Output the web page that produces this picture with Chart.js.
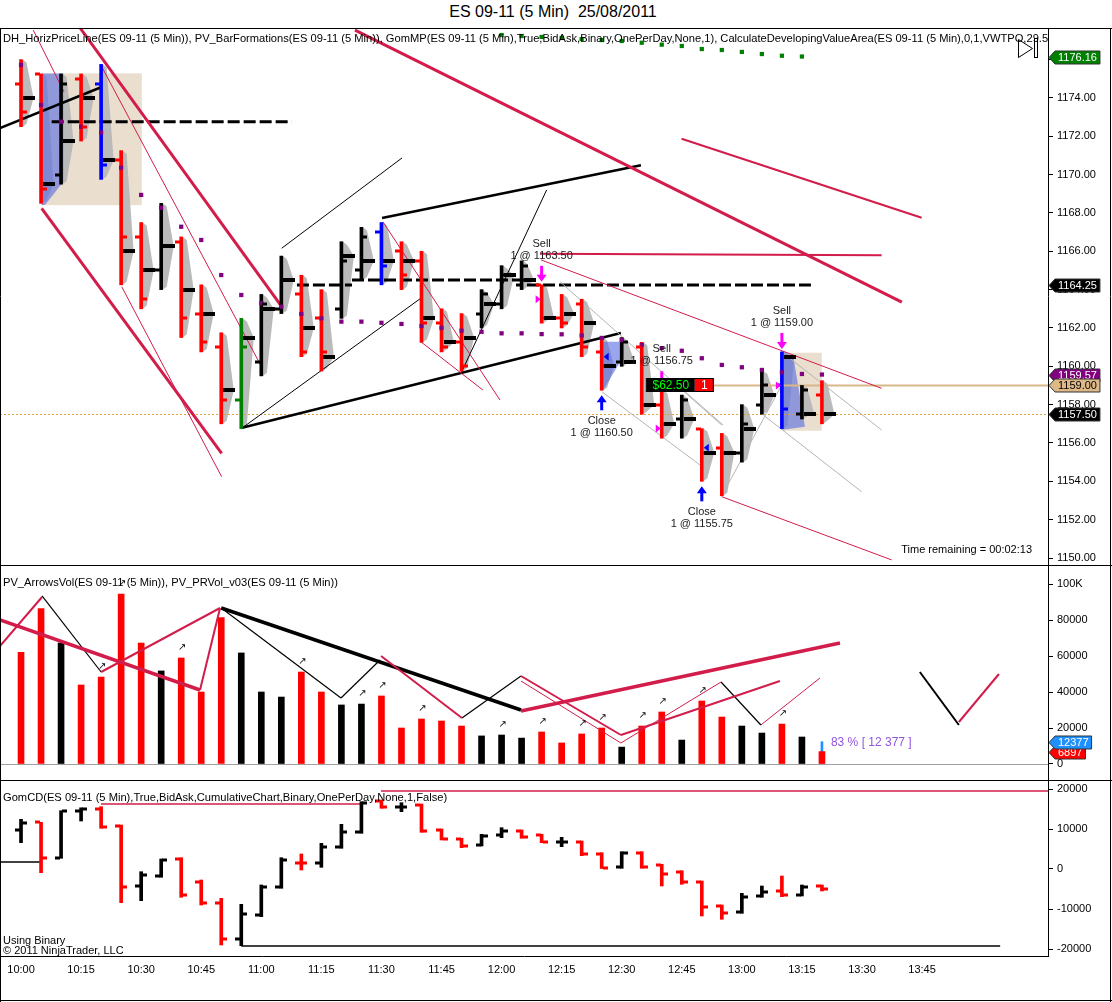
<!DOCTYPE html>
<html>
<head>
<meta charset="utf-8">
<title>ES 09-11 (5 Min) 25/08/2011</title>
<script src="https://cdn.jsdelivr.net/npm/chart.js@4.4.1/dist/chart.umd.min.js"></script>
<style>
  html, body { margin: 0; padding: 0; background: #fff; }
  #page { position: relative; width: 1112px; height: 1002px; overflow: hidden; font-family: "Liberation Sans", Arial, sans-serif; }
  #title { position: absolute; top: 3px; left: 0; width: 1106px; text-align: center; font-size: 16px; color: #000; white-space: pre; }
  .panel { position: absolute; left: 0; width: 1112px; }
</style>
</head>
<body>
<div id="page">
  <div id="title">ES 09-11 (5 Min)  25/08/2011</div>
  <div class="panel" style="top:28px;height:537px"><canvas id="pricePanel"></canvas></div>
  <div class="panel" style="top:565px;height:215px"><canvas id="volumePanel"></canvas></div>
  <div class="panel" style="top:780px;height:222px"><canvas id="deltaPanel"></canvas></div>
</div>
<script>
const FONT = '"Liberation Sans", Arial, sans-serif';

// time axis (one bar every 5 minutes, bar 0 = 10:00)
const timeLabels = ['10:00','10:15','10:30','10:45','11:00','11:15','11:30','11:45',
                    '12:00','12:15','12:30','12:45','13:00','13:15','13:30','13:45'];
const timeTickBars = [0,3,6,9,12,15,18,21,24,27,30,33,36,39,42,45];

// price bars
const priceOpen  = [1174.75,1175.25,1170.00,1175.00,1174.75,1170.75,1166.75,1165.00,1166.50,1162.75,
                    1161.00,1158.25,1160.25,1163.00,1163.75,1162.50,1163.00,1165.00,1167.00,1166.00,
                    1165.50,1162.25,1161.25,1162.75,1163.25,1164.25,1164.25,1162.50,1163.25,1160.75,
                    1160.25,1161.00,1158.00,1157.25,1156.75,1155.75,1155.50,1158.00,1159.00,1157.50,1158.50];
const priceHigh  = [1176.00,1175.25,1175.25,1175.25,1175.75,1171.25,1167.50,1168.50,1166.75,1164.25,
                    1161.75,1162.50,1163.75,1165.75,1164.75,1164.00,1166.50,1167.25,1167.50,1166.50,
                    1166.00,1163.00,1162.75,1164.00,1165.25,1165.50,1164.25,1163.75,1163.50,1161.50,
                    1161.50,1161.25,1158.75,1158.50,1156.75,1156.50,1158.00,1159.75,1160.75,1159.00,1159.25];
const priceLow   = [1172.50,1168.50,1169.50,1171.75,1169.75,1164.25,1163.00,1164.00,1161.50,1160.75,
                    1157.00,1156.75,1159.50,1162.75,1160.50,1159.75,1162.50,1164.50,1164.25,1164.00,
                    1161.25,1160.75,1159.75,1162.00,1163.00,1164.00,1162.25,1162.00,1160.50,1158.75,
                    1160.00,1157.50,1156.25,1156.25,1154.00,1153.25,1155.00,1157.50,1156.75,1157.25,1157.00];
const priceClose = [1173.25,1169.25,1174.75,1172.50,1170.50,1166.75,1163.50,1166.25,1162.50,1161.25,
                    1158.25,1161.00,1163.25,1164.50,1160.75,1160.75,1165.50,1166.75,1165.25,1164.75,
                    1162.25,1161.00,1160.00,1163.75,1164.75,1165.25,1162.50,1162.25,1161.00,1160.00,
                    1161.25,1158.00,1157.00,1158.25,1155.50,1155.50,1157.00,1159.00,1157.75,1158.75,1157.50];
const pricePoc   = [1174.00,1169.50,1171.75,1174.00,1170.75,1166.00,1165.00,1166.25,1164.00,1162.75,
                    1158.75,1161.50,1163.00,1164.50,1162.00,1160.50,1165.75,1165.50,1165.50,1165.50,
                    1162.50,1161.25,1161.50,1163.25,1164.75,1164.50,1162.50,1162.75,1162.25,1160.00,
                    1160.25,1158.00,1157.00,1157.25,1155.50,1155.50,1156.75,1158.50,1160.50,1157.50,1157.50];
const blueSignalBars  = [4, 18, 38];
const greenSignalBars = [11];
const vwapDots = [1175.72,1173.63,1172.76,1172.50,1172.19,1170.36,1168.94,1168.27,1167.28,1166.59,
                  1164.76,1163.72,1163.29,1163.11,1162.73,1162.50,1162.33,1162.33,1162.27,1162.21,
                  1162.10,1162.01,1161.86,1161.80,1161.72,1161.72,1161.68,1161.67,1161.61,1161.48,
                  1161.37,1161.11,1160.95,1160.81,1160.42,1160.07,1159.95,1159.81,1159.68,1159.60,1159.57];
const greenDotsStart = 24;
const greenDots = [1177.28,1177.23,1177.18,1177.13,1177.07,1177.02,1176.97,1176.88,
                   1176.78,1176.71,1176.55,1176.50,1176.40,1176.29,1176.20,1176.16];
const priceTicks = [1150,1152,1154,1156,1158,1160,1162,1164,1166,1168,1170,1172,1174,1176];
const priceMarks = [1164.25, 1159.57, 1159.00, 1157.50, 1176.16];
const lastPrice = 1157.50;

// trades
const sellTrades  = [{bar: 26, price: 1163.50}, {bar: 32, price: 1156.75}, {bar: 38, price: 1159.00}];
const closeTrades = [{bar: 29, price: 1160.50}, {bar: 34, price: 1155.75}];
const positionPrice = 1159.00;
const positionQty = 1;
const positionPnl = '$62.50';
const positionBoxEnd = 34.6;
const timeRemaining = '00:02:13';

// drawn objects on the price panel, [bar1, price1, bar2, price2]
const blackThickLines = [[-1.05,1172.43,4.03,1174.57],[10.99,1156.78,29.96,1161.74],[18.03,1167.74,30.96,1170.49]];
const blackThinLines  = [[13.02,1166.16,19.03,1170.87],[11.04,1156.78,19.98,1163.56],[22.01,1159.72,26.25,1169.20]];
const blackDashLines  = [[1.53,1172.76,13.52,1172.76],[13.78,1164.24,16.53,1164.24],
                         [16.53,1164.50,25.27,1164.50],[25.27,1164.24,39.45,1164.24]];
const crimsonThickLines = [[2.95,1177.65,13.02,1163.11],[1.03,1168.24,10.02,1155.46],[16.68,1177.54,43.99,1163.35]];
const crimsonMidLines   = [[32.99,1171.87,44.98,1167.75],[25.92,1165.87,42.98,1165.79]];
const crimsonThinLines  = [[0.61,1177.54,2.15,1174.31],[4.03,1175.63,12.02,1159.96],[5.03,1164.15,10.02,1154.24],
                           [25.97,1165.55,42.98,1158.85],[18.08,1167.53,23.92,1158.24],[19.98,1161.27,23.07,1158.76],
                           [34.99,1153.20,43.48,1149.90]];
const grayLines = [[26.92,1164.41,34.99,1156.94],[29.00,1158.68,33.91,1154.85],[37.07,1157.46,41.98,1153.46],
                   [38.07,1160.68,42.98,1156.68],[35.07,1153.38,37.99,1159.02],[33.16,1158.68,35.06,1156.94]];
const valueAreaBoxes = [[1.03,1175.28,6.03,1168.41],[38.05,1160.71,39.99,1156.64]];
const blueShapes = [
  [[1.03,1175.28],[2.11,1175.28],[2.11,1169.63],[1.20,1168.41],[1.03,1168.41]],
  [[29.08,1161.28],[30.08,1161.28],[30.08,1160.50],[29.08,1158.76]],
  [[37.95,1160.85],[38.57,1160.50],[39.07,1157.37],[39.15,1156.85],[37.95,1156.68]]
];

// volume
const volume = [62060,86300,67200,43900,48300,94400,67200,51700,58900,40000,
                81300,61700,40000,37200,51100,40000,32800,33300,37800,20000,
                25000,23900,21100,15600,16100,14400,17800,11700,16700,20000,
                9400,21100,28900,13300,35000,26100,21100,17200,22200,15000,6897];
const lastBarAsk = 12377;
const lastBarPct = 83;
const volumeArrowBars = [4,5,8,14,17,18,20,24,26,28,29,31,32,34,38];
const volumeTicks = [0,20000,40000,60000,80000,100000];
const volCrimsonThick = [[-1.05,80000,8.94,41100],[24.97,29450,40.9,67230]];
const volCrimsonMid = [[-1.05,65560,1.05,92790],[4.0,51110,9.94,86670],[8.94,41100,9.94,86670],
                       [17.98,60000,22.02,25560],[24.97,48890,29.96,16110],[29.96,16110,37.9,46110],
                       [46.84,23330,48.84,50000]];
const volCrimsonThin = [[24.97,46110,29.96,11670],[29.96,11670,34.96,45560],[36.95,21670,39.9,47780]];
const volBlackThick = [[10,86670,24.97,30000]];
const volBlackThin = [[1.05,93340,4.0,51110],[10,86670,15.98,36670],[15.98,36670,17.93,57780],
                      [22.02,25560,24.97,48890],[34.96,45560,36.95,21670]];
const volBlackMid = [[44.89,51110,46.84,21670]];

// cumulative delta
const cdOpen  = [9750,11675,2675,14500,15000,10750,-4250,-1675,2500,-3175,
                 -8425,-17575,-11500,-4575,1575,1575,5575,9175,17000,15500,
                 16000,9750,7425,5925,8500,9575,8500,6825,6750,3825,
                 425,4075,925,-675,-3250,-9250,-10825,-6750,-5500,-6500,-4250];
const cdHigh  = [12425,11675,14575,15300,15575,11000,-675,2500,2825,-2750,
                 -7325,-8825,-4000,2825,3750,6425,11175,16825,17250,16575,
                 16250,10000,7675,8675,10325,9750,8675,7925,7000,4075,
                 4325,4325,1175,-425,-3000,-9000,-6075,-4250,-1750,-4000,-4000];
const cdLow   = [6575,-925,2675,12000,10175,-8425,-7925,-2075,-7075,-9000,
                 -19000,-19175,-11925,-4825,-250,425,5175,8925,15175,14325,
                 9175,7250,5325,5750,7825,7675,6575,5575,3325,0,
                 175,175,-4250,-3825,-11750,-12575,-11075,-7075,-6925,-6750,-5500];
const cdClose = [11575,2825,14575,15000,10575,-4425,-1500,2250,-6500,-8575,
                 -17575,-11325,-4425,2250,1400,5575,9325,16425,15500,15575,
                 9500,7500,5825,8325,9575,7925,6825,6825,3675,325,
                 3925,425,-1325,-3175,-9425,-10925,-6925,-5675,-6500,-4425,-5075];
const cdTicks = [-20000,-10000,0,10000,20000];
const cdBlackLines = [[-1.05,1750,1,1750],[11,-19250,48.9,-19250]];
const cdCrimsonLines = [[4,16250,17,16250],[17.98,19500,51.3,19500]];

const X_MIN = -1.05, X_MAX = 51.29;
const RED = '#ff0000', CRIMSON = '#d21c4a';

function barColor(i) {
  if (blueSignalBars.includes(i)) return '#0000ff';
  if (greenSignalBars.includes(i)) return '#008000';
  return priceClose[i] < priceOpen[i] ? RED : '#000000';
}
const volumeColor = i => (priceClose[i] < priceOpen[i] ? RED : '#000000');
const cdColor = i => (cdClose[i] < cdOpen[i] ? RED : '#000000');

function segments(list, color, width, dash) {
  return list.map(s => ({
    type: 'line',
    data: [{x: s[0], y: s[1]}, {x: s[2], y: s[3]}],
    borderColor: color, borderWidth: width, borderDash: dash || [],
    pointRadius: 0, fill: false, tension: 0, order: 5
  }));
}

function frame(chart, withBottom) {
  const {ctx, chartArea: a, width, height} = chart;
  ctx.save();
  ctx.strokeStyle = '#000';
  ctx.lineWidth = 1;
  ctx.beginPath();
  ctx.moveTo(0, 0.5); ctx.lineTo(width, 0.5);
  ctx.moveTo(0.5, 0); ctx.lineTo(0.5, height);
  ctx.moveTo(width - 1.5, 0); ctx.lineTo(width - 1.5, height);
  ctx.moveTo(a.right + 0.5, 0); ctx.lineTo(a.right + 0.5, a.bottom);
  if (withBottom) {
    ctx.moveTo(0, a.bottom + 0.5); ctx.lineTo(a.right + 1, a.bottom + 0.5);
    ctx.moveTo(0, height - 1.5); ctx.lineTo(width, height - 1.5);
  }
  ctx.stroke();
  ctx.restore();
}

function axisTag(chart, value, text, bg, fg) {
  const {ctx, chartArea: a} = chart;
  const y = Math.round(chart.scales.y.getPixelForValue(value)) + 0.5;
  ctx.save();
  ctx.font = '11px ' + FONT;
  const w = ctx.measureText(text).width + 4;
  const x0 = a.right + 1;
  ctx.beginPath();
  ctx.moveTo(x0, y);
  ctx.lineTo(x0 + 6, y - 6.5);
  ctx.lineTo(x0 + 8 + w, y - 6.5);
  ctx.lineTo(x0 + 8 + w, y + 6.5);
  ctx.lineTo(x0 + 6, y + 6.5);
  ctx.closePath();
  ctx.fillStyle = bg; ctx.fill();
  ctx.strokeStyle = '#333'; ctx.lineWidth = 1; ctx.stroke();
  ctx.fillStyle = fg;
  ctx.textAlign = 'left'; ctx.textBaseline = 'middle';
  ctx.fillText(text, x0 + 9, y + 0.5);
  ctx.restore();
}

function header(chart, text, y) {
  const {ctx, chartArea: a} = chart;
  ctx.save();
  ctx.beginPath(); ctx.rect(a.left, a.top, a.right - a.left, a.bottom - a.top); ctx.clip();
  ctx.font = '11.15px ' + FONT;
  ctx.fillStyle = '#000';
  ctx.textAlign = 'left'; ctx.textBaseline = 'middle';
  ctx.fillText(text, 3, y);
  ctx.restore();
}

function ohlcTicks(chart, opens, closes, colorOf) {
  const {ctx} = chart;
  const X = v => chart.scales.x.getPixelForValue(v);
  const Y = v => chart.scales.y.getPixelForValue(v);
  ctx.save();
  ctx.lineWidth = 3;
  opens.forEach((o, i) => {
    const x = Math.round(X(i));
    ctx.strokeStyle = colorOf(i);
    ctx.beginPath();
    ctx.moveTo(x - 6, Math.round(Y(o))); ctx.lineTo(x - 1, Math.round(Y(o)));
    ctx.moveTo(x + 1, Math.round(Y(closes[i]))); ctx.lineTo(x + 6, Math.round(Y(closes[i])));
    ctx.stroke();
  });
  ctx.restore();
}

function arrow(ctx, x, tipY, tailY, color) {
  const dir = tipY > tailY ? 1 : -1;
  ctx.fillStyle = color;
  ctx.fillRect(x - 1.5, Math.min(tailY, tipY - dir * 6), 3, Math.abs(tipY - dir * 6 - tailY));
  ctx.beginPath();
  ctx.moveTo(x - 5, tipY - dir * 7);
  ctx.lineTo(x + 5, tipY - dir * 7);
  ctx.lineTo(x, tipY);
  ctx.closePath();
  ctx.fill();
}

function tradeTriangle(ctx, x, y, color, pointRight) {
  ctx.fillStyle = color;
  ctx.beginPath();
  if (pointRight) { ctx.moveTo(x - 6, y - 4); ctx.lineTo(x - 1, y); ctx.lineTo(x - 6, y + 4); }
  else { ctx.moveTo(x + 7, y - 4); ctx.lineTo(x + 2, y); ctx.lineTo(x + 7, y + 4); }
  ctx.closePath();
  ctx.fill();
}

const baseScales = (yMin, yMax, yTicks, yFormat, showX) => ({
  x: {
    type: 'linear', min: X_MIN, max: X_MAX, offset: false, display: showX,
    grid: {display: false, drawTicks: false}, border: {display: false},
    ticks: {autoSkip: false, maxRotation: 0, padding: 7, color: '#000', font: {family: FONT, size: 11},
            callback: v => timeLabels[timeTickBars.indexOf(v)] || ''},
    afterBuildTicks: s => { s.ticks = timeTickBars.map(v => ({value: v})); },
    afterFit: s => {
      if (s.options.display) s.height = 46;
      s.paddingLeft = 0; s.paddingRight = 0;
    }
  },
  y: {
    type: 'linear', position: 'right', min: yMin, max: yMax, beginAtZero: false,
    grid: {display: true, drawOnChartArea: false, drawTicks: true, tickLength: 5, color: '#000'},
    border: {display: false},
    ticks: {autoSkip: false, padding: 4, color: '#000', font: {family: FONT, size: 11}, callback: yFormat},
    afterBuildTicks: s => { s.ticks = yTicks.map(v => ({value: v})); },
    afterFit: s => { s.width = 64; s.paddingTop = 0; s.paddingBottom = 0; }
  }
});

const baseOptions = scales => ({
  responsive: true, maintainAspectRatio: false, animation: false, events: [],
  layout: {padding: 0, autoPadding: false},
  plugins: {legend: {display: false}, tooltip: {enabled: false}, title: {display: false}},
  scales
});

// ---------- price panel ----------
const pricePlugin = {
  id: 'priceExtras',
  beforeDatasetsDraw(chart) {
    const {ctx, chartArea: a} = chart;
    const X = v => chart.scales.x.getPixelForValue(v);
    const Y = v => chart.scales.y.getPixelForValue(v);
    ctx.save();
    ctx.beginPath(); ctx.rect(a.left, a.top, a.right - a.left, a.bottom - a.top); ctx.clip();

    ctx.fillStyle = 'rgba(214,190,160,0.5)';
    valueAreaBoxes.forEach(([b0, p0, b1, p1]) => ctx.fillRect(X(b0), Y(p0), X(b1) - X(b0), Y(p1) - Y(p0)));

    // volume profile beside each bar
    ctx.fillStyle = '#bababa';
    priceHigh.forEach((h, i) => {
      const x = X(i) + 1.5;
      ctx.beginPath();
      ctx.moveTo(x, Y(h));
      ctx.lineTo(x + 4, Y(h) + 3);
      ctx.lineTo(x + 11, Y(pricePoc[i]));
      ctx.lineTo(x + 4, Y(priceLow[i]) - 3);
      ctx.lineTo(x, Y(priceLow[i]));
      ctx.closePath();
      ctx.fill();
    });

    ctx.fillStyle = 'rgba(85,105,225,0.6)';
    blueShapes.forEach(poly => {
      ctx.beginPath();
      poly.forEach(([b, p], k) => (k ? ctx.lineTo(X(b), Y(p)) : ctx.moveTo(X(b), Y(p))));
      ctx.closePath();
      ctx.fill();
    });

    // last price and open position lines
    ctx.strokeStyle = '#e0a040'; ctx.lineWidth = 1; ctx.setLineDash([2, 2]);
    ctx.beginPath();
    ctx.moveTo(a.left, Math.round(Y(lastPrice)) + 0.5); ctx.lineTo(a.right, Math.round(Y(lastPrice)) + 0.5);
    ctx.stroke();
    ctx.setLineDash([]);
    ctx.strokeStyle = '#d8b888'; ctx.lineWidth = 2;
    ctx.beginPath();
    ctx.moveTo(X(positionBoxEnd), Y(positionPrice)); ctx.lineTo(a.right, Y(positionPrice));
    ctx.stroke();
    ctx.restore();
  },
  afterDatasetsDraw(chart) {
    const {ctx, chartArea: a} = chart;
    const X = v => chart.scales.x.getPixelForValue(v);
    const Y = v => chart.scales.y.getPixelForValue(v);
    ohlcTicks(chart, priceOpen, priceClose, barColor);

    ctx.save();
    ctx.beginPath(); ctx.rect(a.left, a.top, a.right - a.left, a.bottom - a.top); ctx.clip();
    ctx.fillStyle = '#000';
    pricePoc.forEach((p, i) => ctx.fillRect(Math.round(X(i)) + 2, Math.round(Y(p)) - 2, 12, 4));

    ctx.font = '11px ' + FONT;
    ctx.textAlign = 'center'; ctx.textBaseline = 'middle';
    sellTrades.forEach(t => {
      const x = X(t.bar), top = Y(priceHigh[t.bar]);
      arrow(ctx, x, top - 3, top - 19, '#ff00ff');
      ctx.fillStyle = '#1a1a1a';
      ctx.fillText('Sell', x, top - 41);
      ctx.fillText('1 @ ' + t.price.toFixed(2), x, top - 29);
      tradeTriangle(ctx, x, Y(t.price), '#ff00ff', true);
    });
    closeTrades.forEach(t => {
      const x = X(t.bar), bot = Y(priceLow[t.bar]);
      arrow(ctx, x, bot + 5, bot + 20, '#0000ff');
      ctx.fillStyle = '#1a1a1a';
      ctx.fillText('Close', x, bot + 31);
      ctx.fillText('1 @ ' + t.price.toFixed(2), x, bot + 43);
      tradeTriangle(ctx, x, Y(t.price), '#0000ff', false);
    });

    // open position box
    const bx = X(positionBoxEnd), by = Math.round(Y(positionPrice));
    ctx.fillStyle = '#000'; ctx.fillRect(bx - 67, by - 6, 48, 13);
    ctx.fillStyle = RED; ctx.fillRect(bx - 19, by - 6, 19, 13);
    ctx.strokeStyle = '#000'; ctx.lineWidth = 1; ctx.strokeRect(bx - 67.5, by - 6.5, 67, 13);
    ctx.font = '12px ' + FONT;
    ctx.fillStyle = '#00ff00'; ctx.fillText(positionPnl, bx - 43, by + 1);
    ctx.fillStyle = '#fff'; ctx.fillText(String(positionQty), bx - 9.5, by + 1);

    ctx.font = '11px ' + FONT;
    ctx.fillStyle = '#000'; ctx.textAlign = 'right';
    ctx.fillText('Time remaining = ' + timeRemaining, a.right - 16, a.bottom - 15);

    // chart trader icon
    ctx.strokeStyle = '#000'; ctx.lineWidth = 1;
    ctx.beginPath();
    ctx.moveTo(1018.5, 11.5); ctx.lineTo(1032.5, 20.5); ctx.lineTo(1018.5, 29.5); ctx.closePath();
    ctx.stroke();
    ctx.strokeRect(1034.5, 10.5, 3, 19);
    ctx.restore();

    header(chart, 'DH_HorizPriceLine(ES 09-11 (5 Min)), PV_BarFormations(ES 09-11 (5 Min)), GomMP(ES 09-11 (5 Min),True,BidAsk,Binary,OnePerDay,None,1), CalculateDevelopingValueArea(ES 09-11 (5 Min),0,1,VWTPO,29.5', 11);
  },
  afterDraw(chart) {
    frame(chart, false);
    axisTag(chart, priceMarks[0], priceMarks[0].toFixed(2), '#000', '#fff');
    axisTag(chart, priceMarks[1], priceMarks[1].toFixed(2), '#800080', '#fff');
    axisTag(chart, priceMarks[2], priceMarks[2].toFixed(2), '#deb887', '#000');
    axisTag(chart, priceMarks[3], priceMarks[3].toFixed(2), '#000', '#fff');
    axisTag(chart, priceMarks[4], priceMarks[4].toFixed(2), '#008000', '#fff');
  }
};

new Chart(document.getElementById('pricePanel'), {
  type: 'bar',
  data: {
    datasets: [
      {type: 'scatter', data: vwapDots.map((v, i) => ({x: i, y: v})), pointStyle: 'rect',
       pointRadius: 3, backgroundColor: '#800080', borderWidth: 0, order: 0},
      {type: 'scatter', data: greenDots.map((v, i) => ({x: greenDotsStart + i, y: v})), pointStyle: 'rect',
       pointRadius: 3, backgroundColor: '#008000', borderWidth: 0, order: 0},
      {type: 'bar', data: priceHigh.map((h, i) => ({x: i, y: [priceLow[i], h]})),
       backgroundColor: priceHigh.map((h, i) => barColor(i)), barThickness: 3, order: 1},
      ...segments(grayLines, '#b4b4b4', 1),
      ...segments(crimsonThinLines, CRIMSON, 1),
      ...segments(crimsonMidLines, CRIMSON, 2),
      ...segments(crimsonThickLines, CRIMSON, 3),
      ...segments(blackThinLines, '#000', 1),
      ...segments(blackThickLines, '#000', 2.5),
      ...segments(blackDashLines, '#000', 3, [12, 4])
    ]
  },
  plugins: [pricePlugin],
  options: baseOptions(baseScales(1149.635, 1177.648, priceTicks, v => v.toFixed(2), false))
});

// ---------- volume panel ----------
const volumePlugin = {
  id: 'volumeExtras',
  beforeDatasetsDraw(chart) {
    const {ctx, chartArea: a} = chart;
    const y0 = Math.round(chart.scales.y.getPixelForValue(0)) + 0.5;
    ctx.save();
    ctx.strokeStyle = '#a0a0a0'; ctx.lineWidth = 1;
    ctx.beginPath(); ctx.moveTo(a.left, y0); ctx.lineTo(a.right, y0); ctx.stroke();
    ctx.restore();
  },
  afterDatasetsDraw(chart) {
    const {ctx} = chart;
    const X = v => chart.scales.x.getPixelForValue(v);
    const Y = v => chart.scales.y.getPixelForValue(v);
    ctx.save();
    ctx.font = '10px "DejaVu Sans", sans-serif';
    ctx.fillStyle = '#000'; ctx.textAlign = 'center'; ctx.textBaseline = 'middle';
    volumeArrowBars.forEach(i => ctx.fillText('\u2197', X(i) + 1, Y(volume[i]) - 11));
    ctx.font = '12px ' + FONT;
    ctx.fillStyle = '#9055dd'; ctx.textAlign = 'left';
    const spaced = String(lastBarAsk).replace(/\B(?=(\d{3})+(?!\d))/g, ' ');
    ctx.fillText(lastBarPct + ' % [ ' + spaced + ' ]', X(40) + 9, Y(lastBarAsk) + 1);
    ctx.restore();
    header(chart, 'PV_ArrowsVol(ES 09-11 (5 Min)), PV_PRVol_v03(ES 09-11 (5 Min))', 18);
  },
  afterDraw(chart) {
    frame(chart, false);
    axisTag(chart, volume[40], String(volume[40]), RED, '#fff');
    axisTag(chart, lastBarAsk, String(lastBarAsk), '#1e90ff', '#fff');
  }
};

new Chart(document.getElementById('volumePanel'), {
  type: 'bar',
  data: {
    datasets: [
      {type: 'bar', data: [{x: 40, y: lastBarAsk}], backgroundColor: '#1e90ff', barThickness: 2, grouped: false, order: 3},
      {type: 'bar', data: volume.map((v, i) => ({x: i, y: v})), backgroundColor: volume.map((v, i) => volumeColor(i)),
       barThickness: 6, grouped: false, order: 2},
      ...segments(volCrimsonThin, CRIMSON, 1),
      ...segments(volCrimsonMid, CRIMSON, 2),
      ...segments(volCrimsonThick, CRIMSON, 3.5),
      ...segments(volBlackThin, '#000', 1.2),
      ...segments(volBlackMid, '#000', 2),
      ...segments(volBlackThick, '#000', 3.5)
    ].map(d => (d.type === 'line' ? Object.assign(d, {order: 0}) : d))
  },
  plugins: [volumePlugin],
  options: baseOptions(baseScales(-8889, 110556, volumeTicks, v => (v === 100000 ? '100K' : String(v)), false))
});

// ---------- cumulative delta panel ----------
const deltaPlugin = {
  id: 'deltaExtras',
  afterDatasetsDraw(chart) {
    const {ctx} = chart;
    ohlcTicks(chart, cdOpen, cdClose, cdColor);
    header(chart, 'GomCD(ES 09-11 (5 Min),True,BidAsk,CumulativeChart,Binary,OnePerDay,None,1,False)', 18);
    ctx.save();
    ctx.font = '11px ' + FONT; ctx.fillStyle = '#000';
    ctx.textAlign = 'left'; ctx.textBaseline = 'middle';
    ctx.fillText('Using Binary', 3, 161);
    ctx.fillText('\u00a9 2011 NinjaTrader, LLC', 3, 171);
    ctx.restore();
  },
  afterDraw(chart) { frame(chart, true); }
};

new Chart(document.getElementById('deltaPanel'), {
  type: 'bar',
  data: {
    datasets: [
      {type: 'bar', data: cdHigh.map((h, i) => ({x: i, y: [cdLow[i], h]})),
       backgroundColor: cdHigh.map((h, i) => cdColor(i)), barThickness: 3, order: 1},
      ...segments(cdBlackLines, '#000', 1.5),
      ...segments(cdCrimsonLines, CRIMSON, 1.5)
    ]
  },
  plugins: [deltaPlugin],
  options: baseOptions(baseScales(-21750, 22250, cdTicks, v => String(v), true))
});
</script>
</body>
</html>
